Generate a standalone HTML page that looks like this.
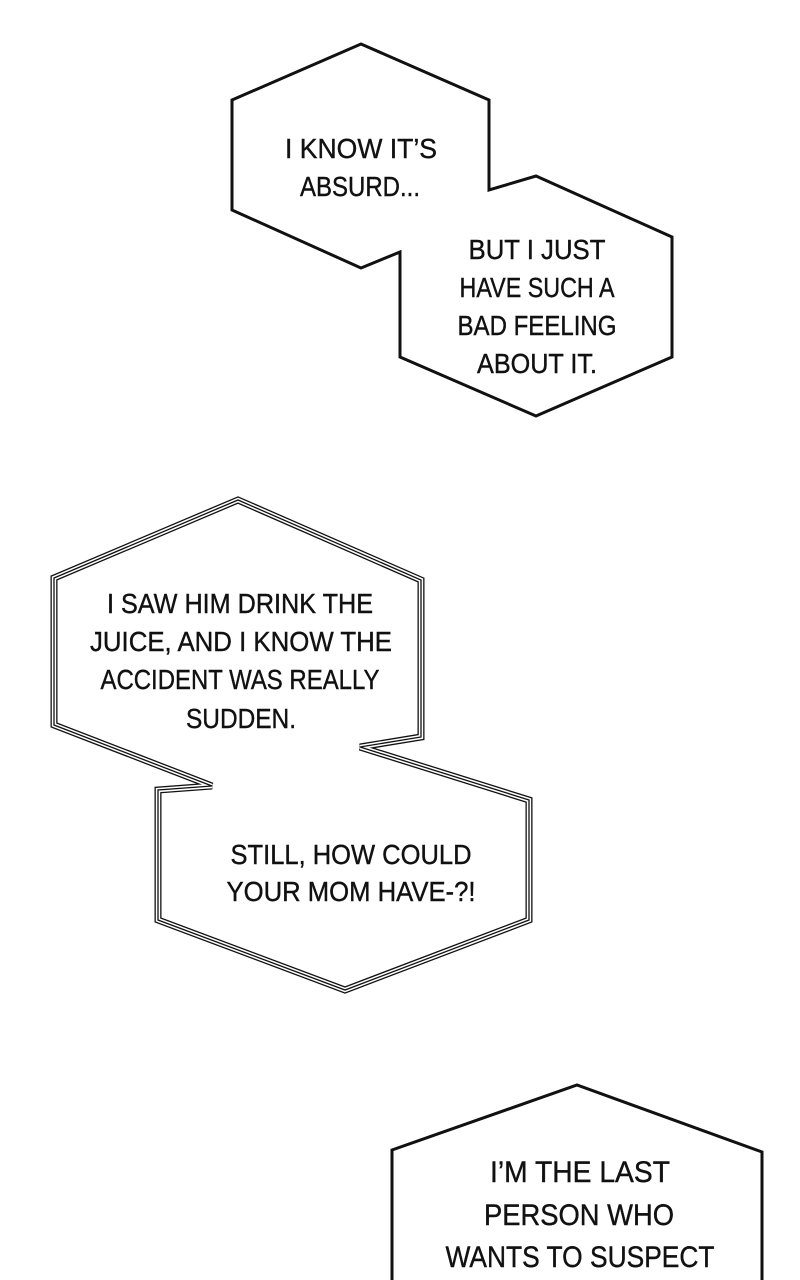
<!DOCTYPE html>
<html><head><style>
html,body{margin:0;padding:0;background:#fff;}
svg{display:block;}
text{font-family:"Liberation Sans",sans-serif;font-size:28px;fill:#111;stroke:#111;stroke-width:0.4;text-anchor:middle;}
</style></head><body>
<svg width="800" height="1280" viewBox="0 0 800 1280">
<rect width="800" height="1280" fill="#fff"/>
<polygon points="232,100 361,44 489,100 489,190 536,176 672,237 672,357 536,416 400,357 400,252 361,268 232,210" fill="#fff" stroke="#111" stroke-width="3" stroke-linejoin="miter"/>
<text x="361" y="158" textLength="152" lengthAdjust="spacingAndGlyphs">I KNOW IT’S</text>
<text x="360" y="196" textLength="120" lengthAdjust="spacingAndGlyphs">ABSURD...</text>
<text x="537" y="259" textLength="137" lengthAdjust="spacingAndGlyphs">BUT I JUST</text>
<text x="537" y="297" textLength="155" lengthAdjust="spacingAndGlyphs">HAVE SUCH A</text>
<text x="537" y="335" textLength="159" lengthAdjust="spacingAndGlyphs">BAD FEELING</text>
<text x="537" y="373" textLength="120" lengthAdjust="spacingAndGlyphs">ABOUT IT.</text>

<g fill="none" stroke-linejoin="miter">
<polygon points="54,578 238,500 421,580 421,737 360,747 529,800 529,920 345,990 158,920 158,790 212,786 54,725" stroke="#111" stroke-width="7"/>
<polygon points="54,578 238,500 421,580 421,737 360,747 529,800 529,920 345,990 158,920 158,790 212,786 54,725" stroke="#fff" stroke-width="4.4"/>
<polygon points="54,578 238,500 421,580 421,737 360,747 529,800 529,920 345,990 158,920 158,790 212,786 54,725" stroke="#111" stroke-width="1.3"/>
</g>
<text x="240" y="613" textLength="266" lengthAdjust="spacingAndGlyphs">I SAW HIM DRINK THE</text>
<text x="241" y="651" textLength="302" lengthAdjust="spacingAndGlyphs">JUICE, AND I KNOW THE</text>
<text x="240" y="689" textLength="279" lengthAdjust="spacingAndGlyphs">ACCIDENT WAS REALLY</text>
<text x="241" y="728" textLength="110" lengthAdjust="spacingAndGlyphs">SUDDEN.</text>
<text x="351" y="864" textLength="241" lengthAdjust="spacingAndGlyphs">STILL, HOW COULD</text>
<text x="351" y="901" textLength="249" lengthAdjust="spacingAndGlyphs">YOUR MOM HAVE-?!</text>

<polygon points="392,1150 577,1085 762,1152 762,1290 392,1290" fill="#fff" stroke="#111" stroke-width="3"/>
<text x="580" y="1182" style="font-size:30px" textLength="180" lengthAdjust="spacingAndGlyphs">I’M THE LAST</text>
<text x="579" y="1225" style="font-size:30px" textLength="190" lengthAdjust="spacingAndGlyphs">PERSON WHO</text>
<text x="580" y="1267" style="font-size:30px" textLength="269" lengthAdjust="spacingAndGlyphs">WANTS TO SUSPECT</text>
</svg>
</body></html>
